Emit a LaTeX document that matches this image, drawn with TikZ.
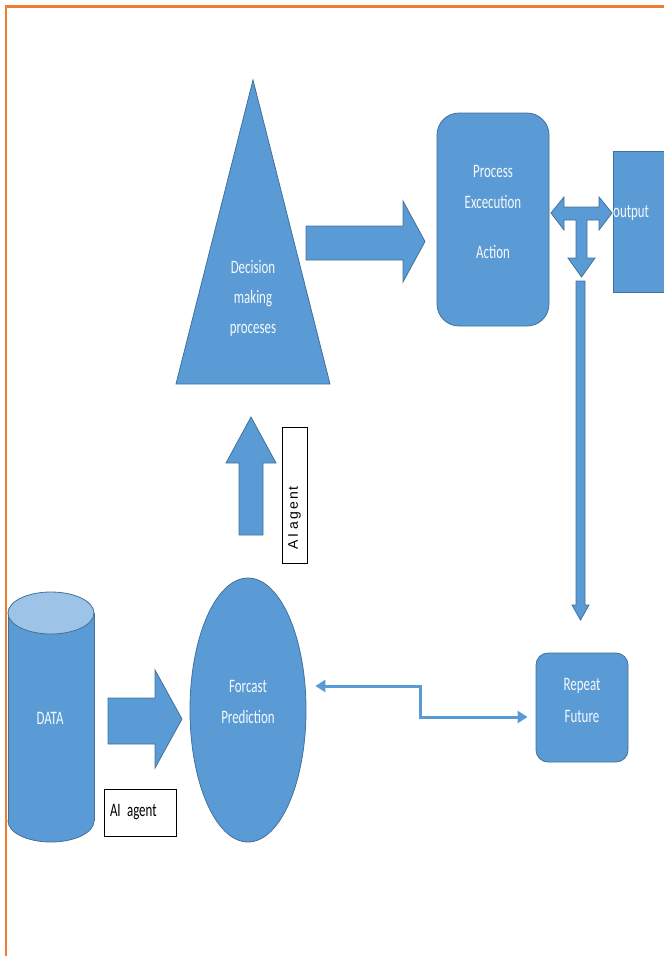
\documentclass[tikz,border=0pt]{standalone}
\usepackage{fontspec}
\usetikzlibrary{arrows.meta,shapes.geometric}
\newfontfamily\blkfont{Carlito}[FakeStretch=0.68, WordSpace=0.7]
\newfontfamily\vfont{Liberation Sans}[LetterSpace=14]
\definecolor{blkfill}{HTML}{5B9BD5}
\definecolor{blkline}{HTML}{41719C}
\definecolor{blktop}{HTML}{9DC3E6}
\definecolor{frame}{HTML}{ED7D31}
\tikzset{
  blk/.style={fill=blkfill, draw=blkline, line width=0.8pt},
  blktext/.style={text=white!94!blkfill, font=\blkfont\fontsize{19}{20}\selectfont, align=center},
  tagbox/.style={draw=black, fill=white, line width=0.9pt, font=\blkfont\fontsize{19}{20}\selectfont, align=left},
  link/.style={draw=blkfill, line width=3pt, {Triangle[length=10pt,width=12pt]}-{Triangle[length=10pt,width=12pt]}},
}
\begin{document}
\begin{tikzpicture}[x=1pt, y=-1pt]
	\useasboundingbox (0,0) rectangle (664,956);
	% page frame
	\draw[frame, line width=2.5pt] (6,1000) -- (6,6.5) -- (700,6.5);
	% decision triangle
	\draw[blk] (253,80) coordinate (dtop) -- (330,384) coordinate (dright) -- (176,384) coordinate (dleft) -- cycle;
	\node[blktext] (dtext) at (253,298.5) {Decision\\[10pt]making\\[10pt]proceses};
	% process block and output
	\node[blk, rectangle, rounded corners=22pt, minimum width=112, minimum height=213] (proc) at (493,219.5) {};
	\node[blktext] (proctext) at (493,211.5) {Process\\[11pt]Excecution\\[30pt]Action};
	\node[blk, rectangle, minimum width=87, minimum height=141] (out) at (656.5,221.5) {};
	\node[blktext, anchor=west, inner xsep=0pt] (outtext) at (613,213) {output};
	% repeat block
	\node[blk, rectangle, rounded corners=12pt, minimum width=92, minimum height=109] (rep) at (582,707.5) {};
	\node[blktext] (reptext) at (582,700) {Repeat\\[12pt]Future};
	% forecast ellipse
	\node[blk, ellipse, minimum width=116, minimum height=264] (fc) at (248,710) {};
	\node[blktext] (fctext) at (248,701.5) {Forcast\\[11pt]Prediction};
	% data cylinder
	\draw[blk] (51,821) ellipse [x radius=43, y radius=21];
	\fill[blkfill] (8,613) rectangle (94,821);
	\draw[blkline, line width=0.8pt] (8,613) -- (8,821) (94,613) -- (94,821);
	\draw[blk, fill=blktop] (51,613) ellipse [x radius=43, y radius=21];
	\node[blktext] (data) at (50,718) {DATA};
	% block arrows
	\draw[blk] (306,226) -- (403,226) -- (403,201) -- (425,241.5) -- (403,282) -- (403,260) -- (306,260) -- cycle;
	\draw[blk] (108,698) -- (155,698) -- (155,670) -- (182,719) -- (155,768) -- (155,744) -- (108,744) -- cycle;
	\draw[blk] (239,535) -- (239,463) -- (226,463) -- (251,417) -- (276,463) -- (263,463) -- (263,535) -- cycle;
	\draw[blk] (551,213) -- (564,197) -- (564,207) -- (599,207) -- (599,197) -- (612,213) -- (599,230) -- (599,220)
		-- (587,220) -- (587,258) -- (595,258) -- (581.5,277) -- (568,258) -- (576,258) -- (576,220)
		-- (564,220) -- (564,230) -- cycle;
	\draw[blk] (576,281) -- (585,281) -- (585,605) -- (589,605) -- (580.5,620) -- (572,605) -- (576,605) -- cycle;
	% agent tags
	\node[tagbox, text width=60, inner xsep=6, minimum height=47] (tagdata) at (140,812.5) {AI agent};
	\node[tagbox, rotate=90, text width=108, inner xsep=14, minimum height=25, font=\vfont\fontsize{14}{15}\selectfont] (tagup) at (294.5,495) {AI agent};
	% feedback link
	\coordinate (fcend) at ([xshift=9pt, yshift=24pt]fc.east);
	\coordinate (repend) at ([xshift=-8pt, yshift=-9.5pt]rep.west);
	\coordinate (bend) at (420,700);
	\draw[link] (fcend) -- (fcend -| bend) -- (bend |- repend) -- (repend);
\end{tikzpicture}
\end{document}
